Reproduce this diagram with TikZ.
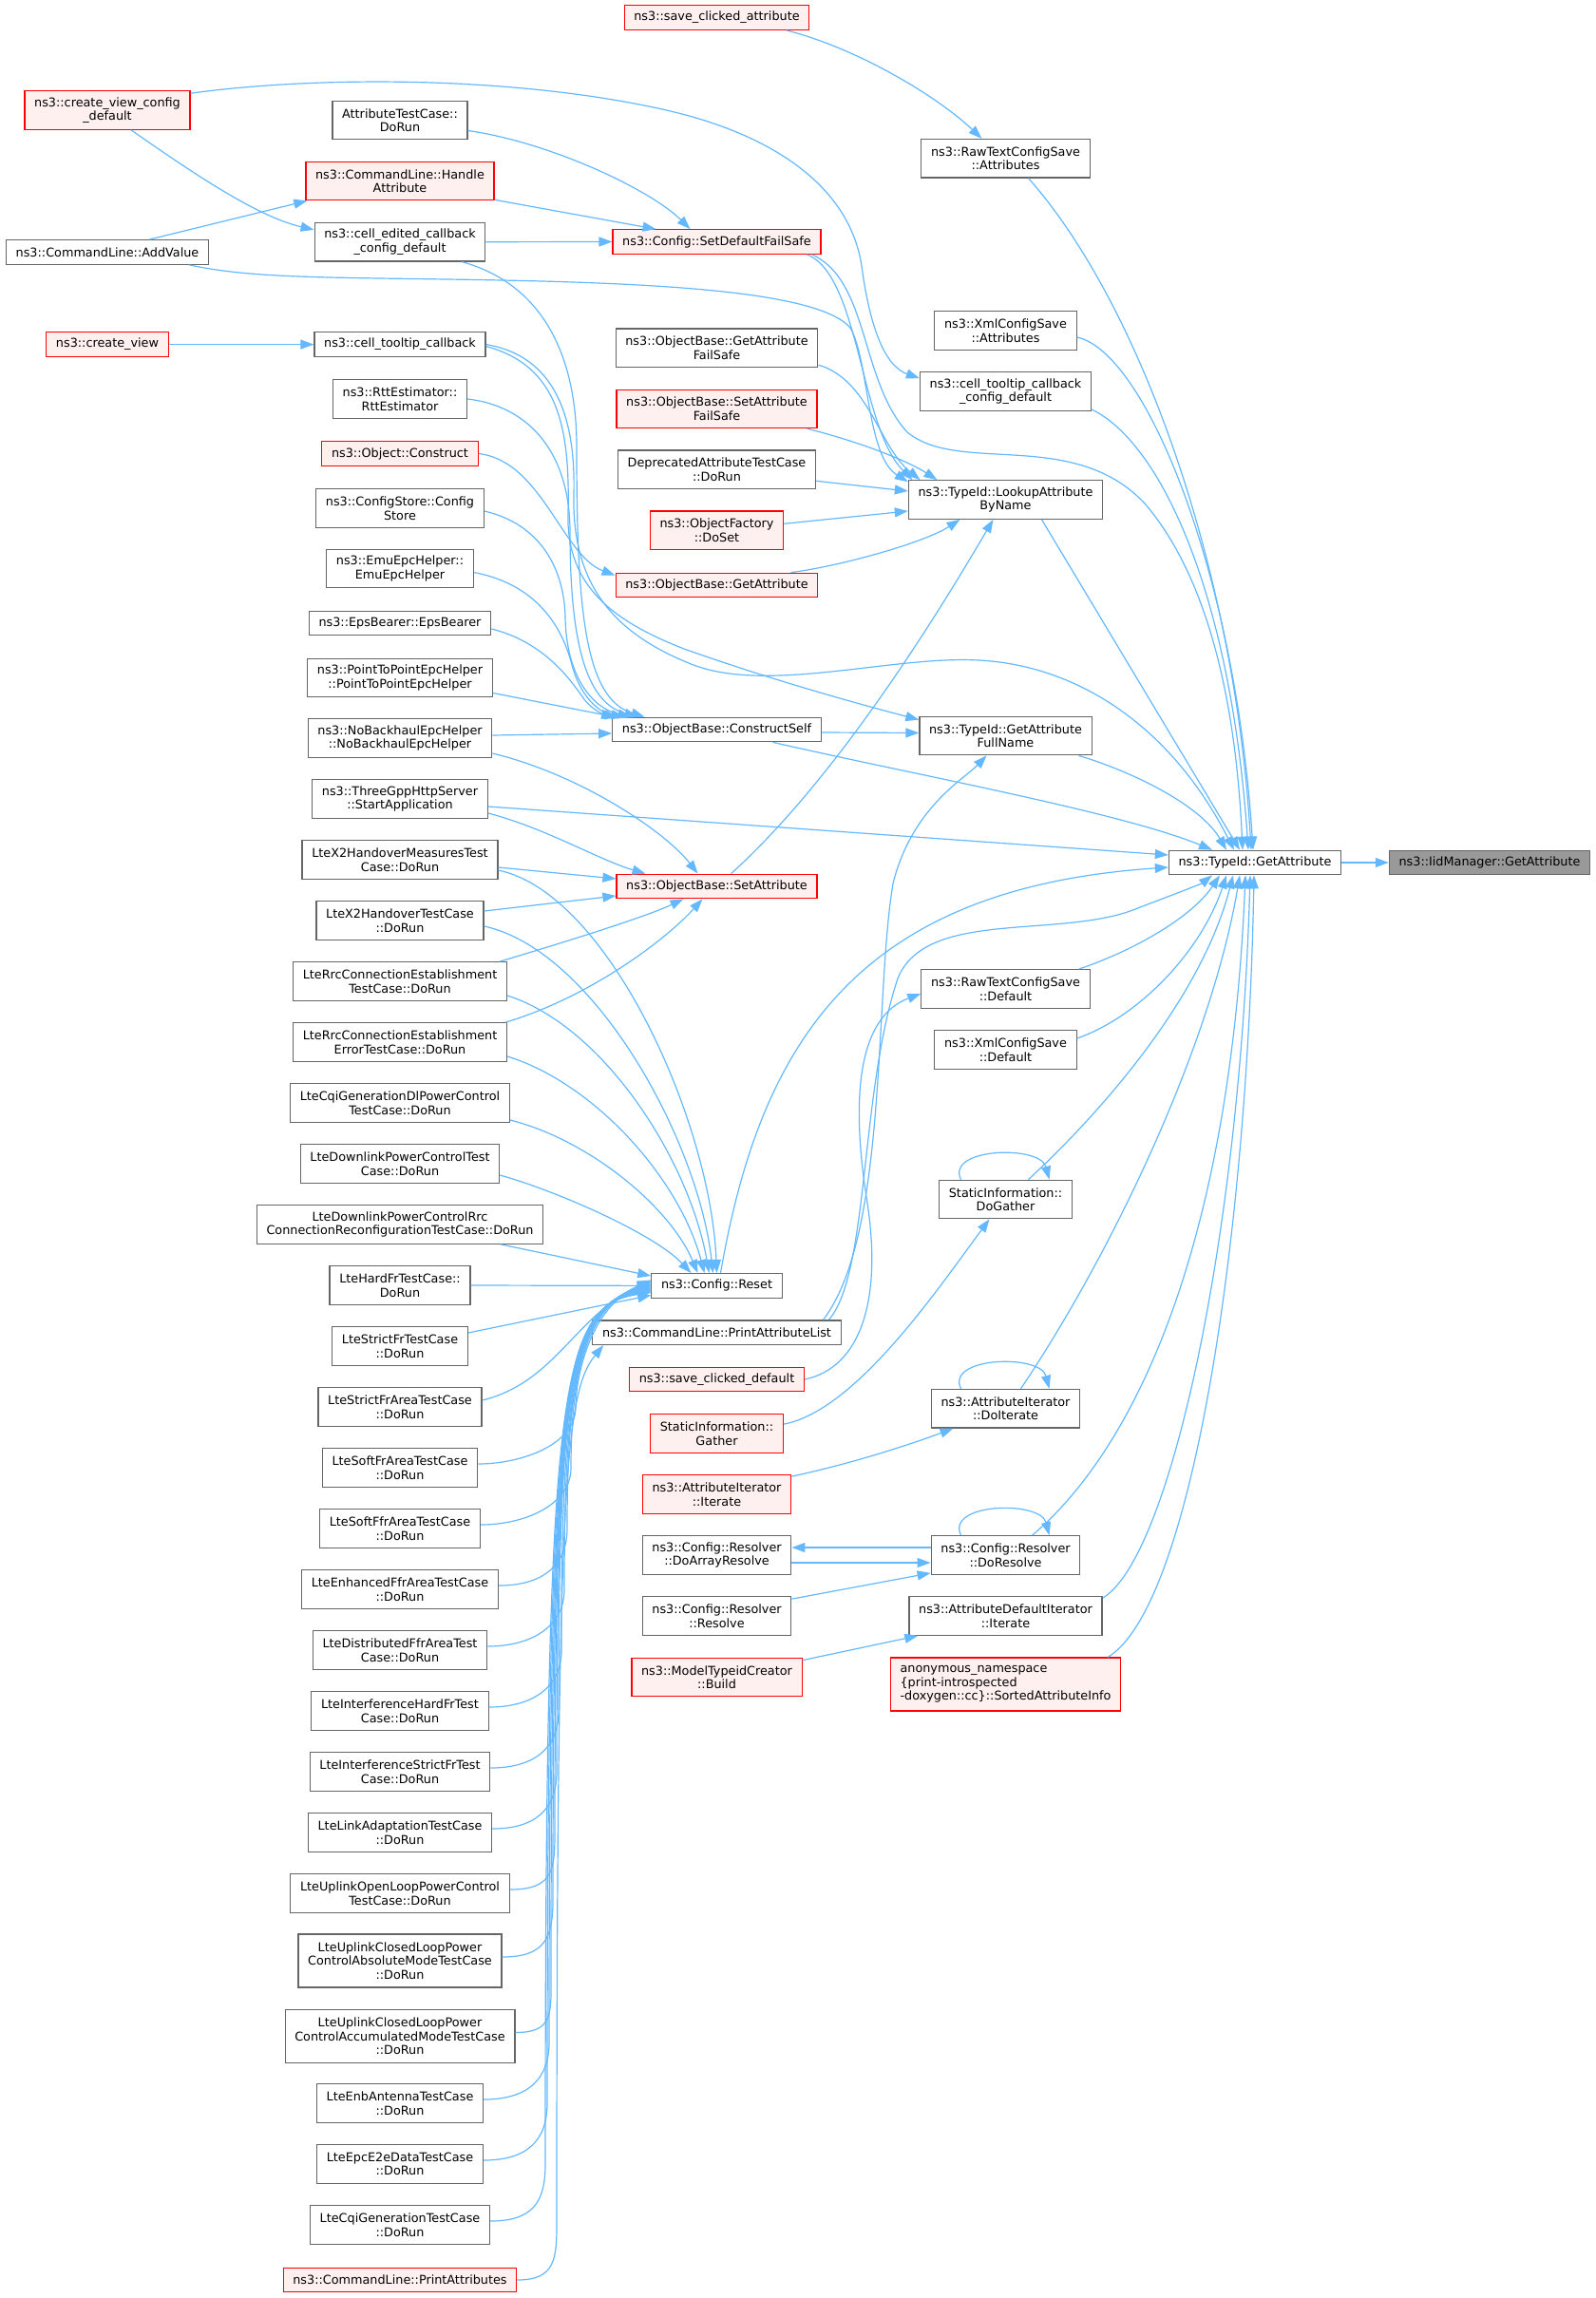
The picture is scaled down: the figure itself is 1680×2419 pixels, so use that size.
\documentclass[tikz,border=0pt]{standalone}
\usepackage{fontspec}
\setmainfont{DejaVu Sans}
\usetikzlibrary{arrows.meta}
\definecolor{boxgray}{HTML}{666666}
\definecolor{redfill}{HTML}{FFF0F0}
\definecolor{rootgray}{HTML}{999999}
\definecolor{edgeblue}{HTML}{63B8FF}
\tikzset{
	fn/.style={draw=boxgray, fill=white, line width=1.2pt, inner xsep=10.2pt, inner ysep=2pt,
		align=center, font=\fontsize{12.8pt}{14.5pt}\selectfont, minimum height=25.5pt},
	fnred/.style={fn, draw=red, fill=redfill},
	fnroot/.style={fn, fill=rootgray},
	twoline/.style={minimum height=40.5pt},
	threeline/.style={minimum height=56pt},
	call/.style={draw=edgeblue, line width=1.2pt, -{Triangle[length=14pt,width=10pt]}}
}

\begin{document}
\begin{tikzpicture}[x=1pt,y=-1pt]
	\useasboundingbox (0,0) rectangle (1680,2419);
	% first column
	\node[fnred,twoline] (cvcd) at (113,116) {ns3::create\_view\_config\\\_default};
	\node[fn] (addvalue) at (113,265.5) {ns3::CommandLine::AddValue};
	\node[fnred] (createview) at (113,362.6) {ns3::create\_view};
	% second column
	\node[fn,twoline] (attrtest) at (421,126.5) {AttributeTestCase::\\DoRun};
	\node[fnred,twoline] (handleattr) at (421,190.5) {ns3::CommandLine::Handle\\Attribute};
	\node[fn,twoline] (celledited) at (421,254.7) {ns3::cell\_edited\_callback\\\_config\_default};
	\node[fn] (celltooltip) at (421,362.6) {ns3::cell\_tooltip\_callback};
	\node[fn,twoline] (rtt) at (421,420) {ns3::RttEstimator::\\RttEstimator};
	\node[fnred] (objconstruct) at (421,477.5) {ns3::Object::Construct};
	\node[fn,twoline] (configstore) at (421,535) {ns3::ConfigStore::Config\\Store};
	\node[fn,twoline] (emu) at (421,598.6) {ns3::EmuEpcHelper::\\EmuEpcHelper};
	\node[fn] (eps) at (421,656) {ns3::EpsBearer::EpsBearer};
	\node[fn,twoline] (p2p) at (421,713.5) {ns3::PointToPointEpcHelper\\::PointToPointEpcHelper};
	\node[fn,twoline] (noback) at (421,777) {ns3::NoBackhaulEpcHelper\\::NoBackhaulEpcHelper};
	\node[fn,twoline] (threegpp) at (421,841) {ns3::ThreeGppHttpServer\\::StartApplication};
	\node[fn,twoline] (x2hm) at (421,905) {LteX2HandoverMeasuresTest\\Case::DoRun};
	\node[fn,twoline] (x2h) at (421,969) {LteX2HandoverTestCase\\::DoRun};
	\node[fn,twoline] (rrc) at (421,1033) {LteRrcConnectionEstablishment\\TestCase::DoRun};
	\node[fn,twoline] (rrcerr) at (421,1097) {LteRrcConnectionEstablishment\\ErrorTestCase::DoRun};
	\node[fn,twoline] (cqidl) at (421,1161) {LteCqiGenerationDlPowerControl\\TestCase::DoRun};
	\node[fn,twoline] (dlpc) at (421,1225) {LteDownlinkPowerControlTest\\Case::DoRun};
	\node[fn,twoline] (dlpcrrc) at (421,1289) {LteDownlinkPowerControlRrc\\ConnectionReconfigurationTestCase::DoRun};
	\node[fn,twoline] (hardfr) at (421,1353) {LteHardFrTestCase::\\DoRun};
	\node[fn,twoline] (strictfr) at (421,1417) {LteStrictFrTestCase\\::DoRun};
	\node[fn,twoline] (strictfrarea) at (421,1481) {LteStrictFrAreaTestCase\\::DoRun};
	\node[fn,twoline] (softfrarea) at (421,1545) {LteSoftFrAreaTestCase\\::DoRun};
	\node[fn,twoline] (softffrarea) at (421,1609) {LteSoftFfrAreaTestCase\\::DoRun};
	\node[fn,twoline] (enhffr) at (421,1673) {LteEnhancedFfrAreaTestCase\\::DoRun};
	\node[fn,twoline] (distffr) at (421,1737) {LteDistributedFfrAreaTest\\Case::DoRun};
	\node[fn,twoline] (interfhard) at (421,1801) {LteInterferenceHardFrTest\\Case::DoRun};
	\node[fn,twoline] (interfstrict) at (421,1865) {LteInterferenceStrictFrTest\\Case::DoRun};
	\node[fn,twoline] (linkadapt) at (421,1929) {LteLinkAdaptationTestCase\\::DoRun};
	\node[fn,twoline] (ulopen) at (421,1993) {LteUplinkOpenLoopPowerControl\\TestCase::DoRun};
	\node[fn,threeline] (ulabs) at (421,2064) {LteUplinkClosedLoopPower\\ControlAbsoluteModeTestCase\\::DoRun};
	\node[fn,threeline] (ulacc) at (421,2143.5) {LteUplinkClosedLoopPower\\ControlAccumulatedModeTestCase\\::DoRun};
	\node[fn,twoline] (enbant) at (421,2214) {LteEnbAntennaTestCase\\::DoRun};
	\node[fn,twoline] (epce2e) at (421,2278) {LteEpcE2eDataTestCase\\::DoRun};
	\node[fn,twoline] (cqigen) at (421,2342) {LteCqiGenerationTestCase\\::DoRun};
	\node[fnred] (printattrs) at (421,2400) {ns3::CommandLine::PrintAttributes};
	% third column
	\node[fnred] (saveattr) at (754.5,18.5) {ns3::save\_clicked\_attribute};
	\node[fnred] (setdefault) at (754.5,254.5) {ns3::Config::SetDefaultFailSafe};
	\node[fn,twoline] (getattrfs) at (754.5,366.3) {ns3::ObjectBase::GetAttribute\\FailSafe};
	\node[fnred,twoline] (setattrfs) at (754.5,430.4) {ns3::ObjectBase::SetAttribute\\FailSafe};
	\node[fn,twoline] (deprecated) at (754.5,494.3) {DeprecatedAttributeTestCase\\::DoRun};
	\node[fnred,twoline] (doset) at (754.5,558.3) {ns3::ObjectFactory\\::DoSet};
	\node[fnred] (objgetattr) at (754.5,616) {ns3::ObjectBase::GetAttribute};
	\node[fn] (constructself) at (754.5,768) {ns3::ObjectBase::ConstructSelf};
	\node[fnred] (objsetattr) at (754.5,933) {ns3::ObjectBase::SetAttribute};
	\node[fn] (reset) at (754.5,1353.4) {ns3::Config::Reset};
	\node[fn] (printlist) at (754.5,1402.7) {ns3::CommandLine::PrintAttributeList};
	\node[fnred] (savedefault) at (754.5,1452) {ns3::save\_clicked\_default};
	\node[fnred,twoline] (gather) at (754.5,1509) {StaticInformation::\\Gather};
	\node[fnred,twoline] (iterate) at (754.5,1573) {ns3::AttributeIterator\\::Iterate};
	\node[fn,twoline] (doarray) at (754.5,1637) {ns3::Config::Resolver\\::DoArrayResolve};
	\node[fn,twoline] (resolve) at (754.5,1701) {ns3::Config::Resolver\\::Resolve};
	\node[fnred,twoline] (build) at (754.5,1765.5) {ns3::ModelTypeidCreator\\::Build};
	% fourth column
	\node[fn,twoline] (rawattr) at (1058.5,166.7) {ns3::RawTextConfigSave\\::Attributes};
	\node[fn,twoline] (xmlattr) at (1058.5,348) {ns3::XmlConfigSave\\::Attributes};
	\node[fn,twoline] (tooltipcfg) at (1058.5,412) {ns3::cell\_tooltip\_callback\\\_config\_default};
	\node[fn,twoline] (lookup) at (1058.5,526) {ns3::TypeId::LookupAttribute\\ByName};
	\node[fn,twoline] (fullname) at (1058.5,774.5) {ns3::TypeId::GetAttribute\\FullName};
	\node[fn,twoline] (rawdefault) at (1058.5,1041) {ns3::RawTextConfigSave\\::Default};
	\node[fn,twoline] (xmldefault) at (1058.5,1105) {ns3::XmlConfigSave\\::Default};
	\node[fn,twoline] (dogather) at (1058.5,1262.5) {StaticInformation::\\DoGather};
	\node[fn,twoline] (doiterate) at (1058.5,1482.7) {ns3::AttributeIterator\\::DoIterate};
	\node[fn,twoline] (doresolve) at (1058.5,1637) {ns3::Config::Resolver\\::DoResolve};
	\node[fn,twoline] (defiter) at (1058.5,1701) {ns3::AttributeDefaultIterator\\::Iterate};
	\node[fnred,threeline,align=left] (sorted) at (1058.5,1773) {anonymous\_namespace\\\{print-introspected\\-doxygen::cc\}::SortedAttributeInfo};
	% callee and root
	\node[fn] (tga) at (1321,908) {ns3::TypeId::GetAttribute};
	\node[fnroot] (iid) at (1568,908) {ns3::IidManager::GetAttribute};

	% edges into the root
	\draw[call] (tga.east) -- (iid.west);
	% callers of TypeId::GetAttribute
	\draw[call] ([xshift=38pt]lookup.south) -- ([xshift=-16pt]tga.north);
	\draw[call] ([xshift=77pt]fullname.south) .. controls (1200,815) and (1265,850) .. ([xshift=-30pt]tga.north);
	\draw[call] ([xshift=59pt]constructself.south) .. controls (960,815) and (1180,855) .. ([xshift=-45pt]tga.north);
	\draw[call] ([yshift=-8pt]threegpp.east) -- ([yshift=8pt]tga.west);
	\draw[call] ([xshift=4pt]reset.north) .. controls (800,1100) and (900,935) .. ([yshift=-5pt]tga.west);
	\draw[call] ([xshift=24pt]rawattr.south) .. controls (1200,320) and (1300,600) .. ([xshift=-4pt]tga.north);
	\draw[call] ([yshift=-7pt]xmlattr.east) .. controls (1205,370) and (1300,600) .. ([xshift=-2pt]tga.north);
	\draw[call] ([yshift=-19pt]tooltipcfg.east) .. controls (1220,465) and (1295,620) .. ([xshift=-7pt]tga.north);
	\draw[call] ([xshift=100pt]setdefault.south) .. controls (915,295) and (905,400) .. (955,455)
		.. controls (1010,500) and (1130,450) .. (1205,530) .. controls (1265,600) and (1300,720) .. ([xshift=-13pt]tga.north);
	\draw[call] (celltooltip.east) .. controls (585,375) and (606,440) .. (604,520) .. controls (602,610) and (640,665) .. (730,700)
		.. controls (810,730) and (940,690) .. (1030,695) .. controls (1130,700) and (1230,760) .. ([xshift=-22pt]tga.north);
	\draw[call] ([xshift=118pt]printlist.north) .. controls (915,1340) and (905,1150) .. (945,1030)
		.. controls (975,955) and (1120,990) .. (1200,955) .. controls (1240,940) and (1265,930) .. ([xshift=-45pt]tga.south);
	\draw[call] ([xshift=77pt]rawdefault.north) .. controls (1195,1000) and (1255,965) .. ([xshift=-37pt]tga.south);
	\draw[call] ([yshift=12pt]xmldefault.east) .. controls (1200,1070) and (1265,1000) .. ([xshift=-30pt]tga.south);
	\draw[call] ([xshift=24pt]dogather.north) .. controls (1160,1170) and (1265,1050) .. ([xshift=-23pt]tga.south);
	\draw[call] ([xshift=16pt]doiterate.north) .. controls (1170,1320) and (1275,1100) .. ([xshift=-16pt]tga.south);
	\draw[call] ([xshift=28pt]doresolve.north) .. controls (1200,1520) and (1295,1300) .. ([xshift=-10pt]tga.south);
	\draw[call] ([yshift=-2pt]defiter.north east) .. controls (1232,1640) and (1305,1300) .. ([xshift=-5pt]tga.south);
	\draw[call] ([xshift=-14pt]sorted.north east) .. controls (1255,1690) and (1313,1300) .. ([xshift=-1pt]tga.south);
	% upper left part
	\draw[call] ([yshift=-3pt]cvcd.north east) .. controls (350,78) and (560,82) .. (710,118) .. controls (820,145) and (895,200) .. (907,280)
		.. controls (915,340) and (930,385) .. ([yshift=-7pt]tooltipcfg.north west);
	\draw[call] ([xshift=25pt]cvcd.south) .. controls (200,180) and (270,228) .. ([yshift=-8pt]celledited.north west);
	\draw[call] ([xshift=44pt]addvalue.north) -- ([xshift=2pt]handleattr.south west);
	\draw[call] ([xshift=86pt]addvalue.south) .. controls (260,292) and (330,292) .. (470,294) .. controls (680,297) and (860,305) .. (895,345)
		.. controls (915,380) and (912,480) .. ([yshift=-2pt]lookup.north west);
	\draw[call] (createview.east) -- (celltooltip.west);
	\draw[call] ([yshift=-11pt]attrtest.east) .. controls (580,150) and (685,200) .. ([xshift=-28pt]setdefault.north);
	\draw[call] ([yshift=1pt]handleattr.south east) -- ([xshift=-64pt]setdefault.north);
	\draw[call] (celledited.east) -- (setdefault.west);
	\draw[call] ([xshift=73pt]saveattr.south) .. controls (900,50) and (985,100) .. ([xshift=-25pt]rawattr.north);
	% callers of LookupAttributeByName
	\draw[call] ([xshift=95pt]setdefault.south) .. controls (905,290) and (905,450) .. ([xshift=-98pt]lookup.north);
	\draw[call] ([yshift=3pt]getattrfs.south east) .. controls (915,400) and (925,470) .. ([xshift=-90pt]lookup.north);
	\draw[call] ([xshift=-11pt]setattrfs.south east) .. controls (905,465) and (955,485) .. ([xshift=-72pt]lookup.north);
	\draw[call] ([yshift=-12pt]deprecated.east) -- ([yshift=9pt]lookup.west);
	\draw[call] ([yshift=7pt]doset.east) -- ([yshift=-12pt]lookup.west);
	\draw[call] ([xshift=78pt]objgetattr.north) .. controls (890,595) and (975,570) .. ([xshift=-48pt]lookup.south);
	\draw[call] ([xshift=15pt]objsetattr.north) .. controls (880,820) and (985,650) .. ([xshift=-13pt]lookup.south);
	% GetAttributeFullName and ObjectBase::GetAttribute
	\draw[call] ([yshift=-2pt]celltooltip.east) .. controls (588,385) and (600,450) .. (598,540) .. controls (596,610) and (635,650) .. (720,683)
		.. controls (810,715) and (900,740) .. ([yshift=-4pt]fullname.north west);
	\draw[call] ([yshift=-3pt]constructself.east) -- ([yshift=3pt]fullname.west);
	\draw[call] ([xshift=112pt]printlist.north) .. controls (935,1300) and (920,1050) .. (940,930)
		.. controls (960,850) and (1015,820) .. ([xshift=-20pt]fullname.south);
	\draw[call] (objconstruct.east) .. controls (570,485) and (592,585) .. ([yshift=-3pt]objgetattr.north west);
	% callers of ConstructSelf
	\draw[call] ([xshift=65pt]celledited.south) .. controls (575,300) and (607,380) .. (607,470) .. controls (607,640) and (615,735) .. ([xshift=-76pt]constructself.north);
	\draw[call] (rtt.east) .. controls (560,428) and (600,480) .. (600,560) .. controls (600,680) and (618,740) .. ([xshift=-83pt]constructself.north);
	\draw[call] ([yshift=-3pt]configstore.east) .. controls (570,552) and (594,600) .. (595,650) .. controls (596,710) and (622,745) .. ([xshift=-90pt]constructself.north);
	\draw[call] ([yshift=-4pt]emu.east) .. controls (565,615) and (592,660) .. (602,700) .. controls (611,733) and (630,750) .. ([xshift=-97pt]constructself.north);
	\draw[call] ([yshift=-6pt]eps.east) .. controls (570,675) and (598,712) .. (612,732) .. controls (620,745) and (634,752) .. ([xshift=-104pt]constructself.north);
	\draw[call] ([yshift=-16pt]p2p.east) -- ([xshift=3pt]constructself.north west);
	\draw[call] ([yshift=3pt]noback.east) -- ([yshift=-4pt]constructself.west);
	% callers of ObjectBase::SetAttribute
	\draw[call] ([yshift=-16pt]noback.east) .. controls (610,815) and (700,875) .. ([xshift=-20pt]objsetattr.north);
	\draw[call] ([yshift=-15pt]threegpp.east) .. controls (575,872) and (630,905) .. ([xshift=-75pt]objsetattr.north);
	\draw[call] ([yshift=-8pt]x2hm.east) -- ([yshift=8pt]objsetattr.west);
	\draw[call] ([yshift=10pt]x2h.east) -- ([yshift=-10pt]objsetattr.west);
	\draw[call] ([xshift=-8pt]rrc.north east) .. controls (600,990) and (680,965) .. ([xshift=-35pt]objsetattr.south);
	\draw[call] ([xshift=-2pt]rrcerr.north east) .. controls (620,1050) and (700,990) .. ([xshift=-15pt]objsetattr.south);
	% callers of Config::Reset
	\draw[call] ([yshift=-11pt]x2hm.east) .. controls (640,940) and (748,1180) .. (reset.north);
	\draw[call] ([yshift=-6pt]x2h.east) .. controls (625,1000) and (735,1200) .. ([xshift=-4pt]reset.north);
	\draw[call] ([yshift=-15pt]rrc.east) .. controls (635,1080) and (725,1220) .. ([xshift=-8pt]reset.north);
	\draw[call] ([yshift=-15pt]rrcerr.east) .. controls (625,1140) and (715,1240) .. ([xshift=-13pt]reset.north);
	\draw[call] ([yshift=-18pt]cqidl.east) .. controls (620,1200) and (705,1270) .. ([xshift=-20pt]reset.north);
	\draw[call] ([yshift=-12pt]dlpc.east) .. controls (590,1255) and (690,1300) .. ([xshift=-27pt]reset.north);
	\draw[call] ([xshift=106pt]dlpcrrc.south) -- ([yshift=-3pt]reset.north west);
	\draw[call] (hardfr.east) -- (reset.west);
	\draw[call] ([yshift=14pt]strictfr.east) -- ([yshift=-10pt]reset.west);
	\draw[call] ([yshift=7pt]strictfrarea.east) .. controls (585,1455) and (605,1385) .. ([yshift=6pt]reset.west);
	\draw[call] ([yshift=4pt]softfrarea.east) .. controls +(45,0) and (606,1521) .. (606,1481) .. controls (606,1450) and (621,1375) .. ([yshift=5pt]reset.west);
	\draw[call] ([yshift=4pt]softffrarea.east) .. controls +(45,0) and (601,1585) .. (601,1545) .. controls (601,1450) and (616,1375) .. ([yshift=4pt]reset.west);
	\draw[call] ([yshift=4pt]enhffr.east) .. controls +(45,0) and (597,1649) .. (597,1609) .. controls (597,1450) and (612,1375) .. ([yshift=3pt]reset.west);
	\draw[call] ([yshift=4pt]distffr.east) .. controls +(45,0) and (594,1713) .. (594,1673) .. controls (594,1450) and (609,1375) .. ([yshift=2pt]reset.west);
	\draw[call] ([yshift=4pt]interfhard.east) .. controls +(45,0) and (591,1777) .. (591,1737) .. controls (591,1450) and (606,1375) .. ([yshift=1pt]reset.west);
	\draw[call] ([yshift=4pt]interfstrict.east) .. controls +(45,0) and (588,1841) .. (588,1801) .. controls (588,1450) and (603,1375) .. (reset.west);
	\draw[call] ([yshift=4pt]linkadapt.east) .. controls +(45,0) and (586,1905) .. (586,1865) .. controls (586,1450) and (601,1375) .. ([yshift=-1pt]reset.west);
	\draw[call] ([yshift=4pt]ulopen.east) .. controls +(45,0) and (584,1969) .. (584,1929) .. controls (584,1450) and (599,1375) .. ([yshift=-2pt]reset.west);
	\draw[call] ([yshift=4pt]ulabs.east) .. controls +(45,0) and (582,2040) .. (582,2000) .. controls (582,1450) and (597,1375) .. ([yshift=-3pt]reset.west);
	\draw[call] ([yshift=4pt]ulacc.east) .. controls +(40,0) and (580,2120) .. (580,2080) .. controls (580,1450) and (595,1375) .. ([yshift=-4pt]reset.west);
	\draw[call] ([yshift=4pt]enbant.east) .. controls +(45,0) and (578,2190) .. (578,2150) .. controls (578,1450) and (593,1375) .. ([yshift=-5pt]reset.west);
	\draw[call] ([yshift=4pt]epce2e.east) .. controls +(45,0) and (576,2254) .. (576,2214) .. controls (576,1450) and (591,1375) .. ([yshift=-6pt]reset.west);
	\draw[call] ([yshift=4pt]cqigen.east) .. controls +(45,0) and (574,2318) .. (574,2278) .. controls (574,1450) and (589,1375) .. ([yshift=-7pt]reset.west);
	\draw[call] (printattrs.east) .. controls +(40,0) and (586,2378) .. (586,2340) .. controls (586,1560) and (595,1465) .. ([xshift=12pt]printlist.south west);
	% lower middle part
	\draw[call] (savedefault.east) .. controls (905,1440) and (930,1370) .. (912,1260) .. controls (895,1150) and (905,1070) .. ([yshift=-5pt]rawdefault.west);
	\draw[call] ([yshift=-11pt]gather.north east) .. controls (900,1485) and (985,1360) .. ([xshift=-17pt]dogather.south);
	\draw[call] ([xshift=-47pt]dogather.north) .. controls (995,1208) and (1095,1205) .. ([xshift=46pt]dogather.north);
	\draw[call] ([yshift=-2pt]iterate.north east) .. controls (900,1540) and (965,1518) .. ([xshift=-55pt]doiterate.south);
	\draw[call] ([xshift=-47pt]doiterate.north) .. controls (995,1428) and (1095,1425) .. ([xshift=46pt]doiterate.north);
	\draw[call] ([xshift=-47pt]doresolve.north) .. controls (995,1582) and (1095,1579) .. ([xshift=46pt]doresolve.north);
	\draw[call] ([yshift=8pt]doresolve.west) -- ([yshift=8pt]doarray.east);
	\draw[call] ([yshift=-8pt]doarray.east) -- ([yshift=-8pt]doresolve.west);
	\draw[call] ([yshift=-3pt]resolve.north east) -- ([yshift=2pt]doresolve.south west);
	\draw[call] ([yshift=-3pt]build.north east) -- ([xshift=10pt]defiter.south west);
\end{tikzpicture}
\end{document}
